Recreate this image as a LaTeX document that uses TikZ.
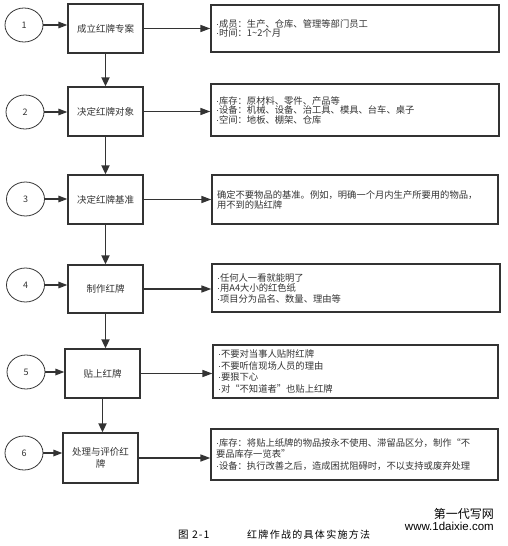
\documentclass[tikz,border=0pt]{standalone}
\usepackage{fontspec}
\setmainfont{Noto Sans CJK SC}
\newfontfamily\wmfont{Liberation Sans}
\newcommand{\bul}{{\wmfont ·}}
\usetikzlibrary{arrows.meta,shapes.geometric}
\definecolor{ink}{HTML}{333333}
\tikzset{
  mbox/.style={draw=ink, line width=1.3pt, text=ink, align=center, inner sep=2pt,
     font=\fontsize{9.5}{11.5}\selectfont},
  rbox/.style={draw=ink, line width=1.3pt, text=ink, align=left, inner xsep=5pt, inner ysep=2pt},
  numell/.style={draw=ink, line width=0.8pt, ellipse, minimum width=38pt, minimum height=34pt,
     inner sep=0pt, text=ink, font=\fontsize{9}{11}\selectfont},
  harr/.style={draw=ink, line width=1.6pt, -{Triangle[length=10pt,width=7pt]}},
  varr/.style={draw=ink, line width=1.8pt, -{Triangle[length=9pt,width=8pt]}},
  iarr/.style={draw=ink, line width=1.6pt, -{Triangle[length=9pt,width=6.5pt]}},
}
\begin{document}
\begin{tikzpicture}[x=1pt,y=-1pt]
\useasboundingbox (0,0) rectangle (508,546);
% numbered ellipses
\node[numell] (c1) at (24,25) {1};
\node[numell] (c2) at (25,112) {2};
\node[numell] (c3) at (25.5,199) {3};
\node[numell] (c4) at (25.5,285) {4};
\node[numell] (c5) at (26,372) {5};
\node[numell] (c6) at (24,453) {6};
% main boxes
\node[mbox, minimum width=75pt, minimum height=49pt] (b1) at (105.5,28.5) {成立红牌专案};
\node[mbox, minimum width=75pt, minimum height=49pt] (b2) at (105.5,111.5) {决定红牌对象};
\node[mbox, minimum width=75pt, minimum height=49pt] (b3) at (105.5,199.5) {决定红牌基准};
\node[mbox, minimum width=75pt, minimum height=48pt] (b4) at (105.5,289) {制作红牌};
\node[mbox, minimum width=75pt, minimum height=49pt] (b5) at (102.5,373.5) {贴上红牌};
\node[mbox, minimum width=75pt, minimum height=50pt, text width=68pt] (b6) at (100.5,458) {处理与评价红\\牌};
% right boxes
\node[rbox, minimum height=47pt, text width=278pt, font=\fontsize{9.3}{9.5}\selectfont] (r1) at (355,28.5)
  {\bul 成员：生产、仓库、管理等部门员工\\\bul 时间：1\textasciitilde 2个月};
\node[rbox, minimum height=52pt, text width=278pt, font=\fontsize{9.3}{9.5}\selectfont] (r2) at (355,110)
  {\bul 库存：原材料、零件、产品等\\\bul 设备：机械、设备、治工具、模具、台车、桌子\\\bul 空间：地板、棚架、仓库};
\node[rbox, minimum height=49pt, text width=276pt, font=\fontsize{9.3}{10}\selectfont] (r3) at (355,199.5)
  {确定不要物品的基准。例如，明确一个月内生产所要用的物品，\\用不到的贴红牌};
\node[rbox, minimum height=48pt, text width=278pt, font=\fontsize{9.3}{10.5}\selectfont] (r4) at (356,288)
  {\bul 任何人一看就能明了\\\bul 用A4大小的红色纸\\\bul 项目分为品名、数量、理由等};
\node[rbox, minimum height=53pt, text width=275pt, font=\fontsize{9.3}{11.5}\selectfont] (r5) at (355.5,371.5)
  {\bul 不要对当事人贴附红牌\\\bul 不要听信现场人员的理由\\\bul 要狠下心\\\bul 对“不知道者”也贴上红牌};
\node[rbox, minimum height=51pt, text width=277pt, font=\fontsize{9.3}{11.5}\selectfont] (r6) at (354.5,454.5)
  {\bul 库存：将贴上纸牌的物品按永不使用、滞留品区分，制作“不\\要品库存一览表”\\\bul 设备：执行改善之后，造成困扰阻碍时，不以支持或废弃处理};
% arrows from ellipses
\foreach \i in {1,...,6} {
  \draw[iarr] (c\i.east) -- (c\i.east -| b\i.west);
  \draw[harr] (b\i.east) -- (b\i.east -| r\i.west);
}
% vertical arrows
\draw[varr] (b1.south) -- (b1.south |- b2.north);
\draw[varr] (b2.south) -- (b2.south |- b3.north);
\draw[varr] (b3.south) -- (b3.south |- b4.north);
\draw[varr] (b4.south) -- (b4.south |- b5.north);
\draw[varr] (b5.south) -- (b5.south |- b6.north);
% caption
\node[anchor=west, text=black, font=\fontsize{10.5}{12}\selectfont\addfontfeatures{LetterSpace=10}, inner sep=0pt] (cap1) at (178,535) {图 2-1};
\node[anchor=west, text=black, font=\fontsize{10}{12}\selectfont\addfontfeatures{LetterSpace=13}, inner sep=0pt] (cap2) at (247,535) {红牌作战的具体实施方法};
% watermark
\node[anchor=east, text=black, font=\fontsize{12}{14}\selectfont, inner sep=0pt] (wm1) at (494,514) {第一代写网};
\node[anchor=east, text=black, font=\wmfont\fontsize{11.5}{13}\selectfont, inner sep=0pt] (wm2) at (494,526) {www.1daixie.com};
\end{tikzpicture}
\end{document}
